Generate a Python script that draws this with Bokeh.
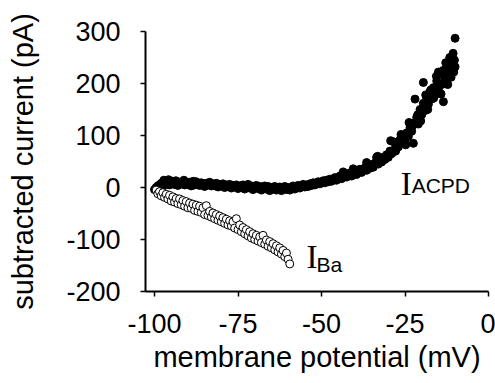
from bokeh.plotting import figure
from bokeh.models import Label, FixedTicker, Range1d
from bokeh.embed import file_html
from bokeh.resources import INLINE

# ---- data ----
acpd_mv = [
    -100, -99.5, -99, -98.5, -98, -97.5, -97, -96.5, -96, -95.5,
    -95, -94.5, -94, -93.5, -93, -92.5, -92, -91.5, -91, -90.5,
    -90, -89.5, -89, -88.5, -88, -87.5, -87, -86.5, -86, -85.5,
    -85, -84.5, -84, -83.5, -83, -82.5, -82, -81.5, -81, -80.5,
    -80, -79.5, -79, -78.5, -78, -77.5, -77, -76.5, -76, -75.5,
    -75, -74.5, -74, -73.5, -73, -72.5, -72, -71.5, -71, -70.5,
    -70, -69.5, -69, -68.5, -68, -67.5, -67, -66.5, -66, -65.5,
    -65, -64.5, -64, -63.5, -63, -62.5, -62, -61.5, -61, -60.5,
    -60, -59.5, -59, -58.5, -58, -57.5, -57, -56.5, -56, -55.5,
    -55, -54.5, -54, -53.5, -53, -52.5, -52, -51.5, -51, -50.5,
    -50, -49.5, -49, -48.5, -48, -47.5, -47, -46.5, -46, -45.5,
    -45, -44.5, -44, -43.5, -43, -42.5, -42, -41.5, -41, -40.5,
    -40, -39.5, -39, -38.5, -38, -37.5, -37, -36.5, -36, -35.5,
    -35, -34.5, -34, -33.5, -33, -32.5, -32, -31.5, -31, -30.5,
    -30, -29.5, -29, -28.5, -28, -27.5, -27, -26.5, -26, -25.5,
    -25, -24.5, -24, -23.5, -23, -22.5, -22, -21.5, -21, -20.5,
    -20, -19.5, -19, -18.5, -18, -17.5, -17, -16.5, -16, -15.5,
    -15, -14.5, -14, -13.5, -13, -12.5, -12, -11.5, -11, -10.5,
    -10,
    -29.3, -27.8, -26.2, -24.8, -23.8, -22.8, -22.0, -21.2, -20.3, -19.5,
    -18.8, -18.2, -17.2, -16.4, -15.6, -15.0, -14.2, -13.6, -12.8, -12.2,
    -11.6, -11.2, -10.6, -10.4, -10.0, -10.2, -33.2, -36.5, -40.5, -43.5,
    -97.2, -95.8, -93.6, -91.2, -88.4,
]
acpd_pa = [
    -4, 0, 3, 5, 8, 4, 9, 6, 10, 5,
    8, 12, 6, 9, 4, 10, 7, 11, 5, 9,
    6, 10, 3, 8, 5, 11, 7, 4, 9, 6,
    2, 8, 5, 10, 3, 7, 4, 8, 1, 6,
    3, 7, 0, 5, 2, 6, -1, 4, 1, 5,
    -2, 3, 0, 5, -3, 2, 6, -1, 3, -4,
    1, 4, -2, 2, -5, 1, 3, -3, 2, -6,
    0, -3, 2, -5, -1, 1, -6, -2, 2, -4,
    0, -5, -1, 3, -3, 1, 4, -1, 3, 6,
    1, 5, 2, 7, 4, 9, 5, 8, 11, 7,
    10, 13, 9, 14, 11, 16, 12, 15, 19, 14,
    18, 22, 17, 21, 25, 20, 24, 28, 22, 27,
    30, 25, 31, 35, 29, 34, 38, 33, 40, 37,
    44, 39, 47, 58, 45, 52, 49, 58, 54, 63,
    58, 70, 65, 88, 74, 82, 78, 92, 85, 98,
    92, 105, 98, 115, 108, 85, 125, 135, 122, 150,
    140, 162, 148, 172, 160, 185, 170, 192, 178, 205,
    190, 218, 198, 165, 208, 230, 215, 238, 225, 245,
    232,
    90, 70, 102, 82, 125, 118, 170, 140, 128, 202,
    178, 150, 188, 172, 214, 222, 180, 225, 240, 198,
    250, 212, 258, 222, 287, 245, 60, 48, 36, 30,
    14, 15, 13, 14, 12,
]

ba_mv = [
    -99.5, -99, -98.5, -98, -97.5, -97, -96.5, -96, -95.5, -95,
    -94.5, -94, -93.5, -93, -92.5, -92, -91.5, -91, -90.5, -90,
    -89.5, -89, -88.5, -88, -87.5, -87, -86.5, -86, -85.5, -85,
    -84.5, -84, -83.5, -83, -82.5, -82, -81.5, -81, -80.5, -80,
    -79.5, -79, -78.5, -78, -77.5, -77, -76.5, -76, -75.5, -75,
    -74.5, -74, -73.5, -73, -72.5, -72, -71.5, -71, -70.5, -70,
    -69.5, -69, -68.5, -68, -67.5, -67, -66.5, -66, -65.5, -65,
    -64.5, -64, -63.5, -63, -62.5, -62, -61.5, -61, -60.5, -60,
    -59.5,
]
ba_pa = [
    -5, -12, -8, -16, -10, -19, -13, -22, -15, -26,
    -18, -28, -21, -31, -22, -33, -25, -36, -27, -39,
    -30, -40, -32, -44, -34, -46, -36, -48, -39, -52,
    -35, -54, -46, -57, -49, -60, -52, -63, -55, -66,
    -58, -69, -61, -72, -64, -74, -66, -78, -60, -81,
    -72, -85, -77, -89, -81, -93, -85, -97, -89, -100,
    -92, -103, -95, -106, -92, -109, -101, -113, -104, -116,
    -108, -120, -112, -124, -116, -128, -121, -133, -126, -138,
    -147,
]

x_ticks = [-100, -75, -50, -25, 0]
x_tick_labels = ["-100", "-75", "-50", "-25", "0"]
y_ticks = [-200, -100, 0, 100, 200, 300]
y_tick_labels = ["-200", "-100", "0", "100", "200", "300"]

SANS = "Liberation Sans"
SERIF = "Liberation Serif"

p = figure(width=495, height=383, output_backend="svg", toolbar_location=None,
           x_range=Range1d(-102.7, 0), y_range=Range1d(-200, 300),
           min_border_left=145, min_border_right=7,
           min_border_top=31, min_border_bottom=92)
p.outline_line_color = None
p.xgrid.visible = False
p.ygrid.visible = False
p.background_fill_color = "white"
p.border_fill_color = "white"

for ax, ticks, labels in ((p.xaxis[0], x_ticks, x_tick_labels),
                          (p.yaxis[0], y_ticks, y_tick_labels)):
    ax.ticker = FixedTicker(ticks=ticks)
    ax.major_label_overrides = {t: l for t, l in zip(ticks, labels)}
    ax.minor_tick_line_color = None
    ax.major_tick_in = 0
    ax.major_tick_out = 5
    ax.axis_line_width = 2
    ax.major_tick_line_width = 1.5
    ax.axis_line_color = "black"
    ax.major_tick_line_color = "black"
    ax.major_label_text_font = SANS
    ax.major_label_text_font_size = "27px"
    ax.major_label_text_color = "black"
    ax.axis_label_text_font = SANS
    ax.axis_label_text_font_size = "29px"
    ax.axis_label_text_font_style = "normal"
    ax.axis_label_text_color = "black"

p.xaxis.axis_label = "membrane potential (mV)"
p.yaxis.axis_label = "subtracted current (pA)"
p.xaxis.major_label_standoff = 17
p.xaxis.axis_label_standoff = 5
p.yaxis.major_label_standoff = 20
p.yaxis.axis_label_standoff = 24

p.scatter(acpd_mv, acpd_pa, size=8, marker="circle",
          fill_color="black", line_color="black")
p.scatter(ba_mv, ba_pa, size=8, marker="circle",
          fill_color="white", line_color="black", line_width=1)

p.add_layout(Label(x=-26.3, y=7.6, text="I", text_font=SERIF,
                   text_font_size="33px", text_color="black",
                   text_align="left", text_baseline="alphabetic"))
p.add_layout(Label(x=-23.0, y=3.8, text="ACPD", text_font=SANS,
                   text_font_size="21px", text_color="black",
                   text_align="left", text_baseline="alphabetic"))
p.add_layout(Label(x=-54.5, y=-132.8, text="I", text_font=SERIF,
                   text_font_size="33px", text_color="black",
                   text_align="left", text_baseline="alphabetic"))
p.add_layout(Label(x=-51.5, y=-148, text="Ba", text_font=SANS,
                   text_font_size="21px", text_color="black",
                   text_align="left", text_baseline="alphabetic"))

open("out.html", "w").write(file_html(p, INLINE))
